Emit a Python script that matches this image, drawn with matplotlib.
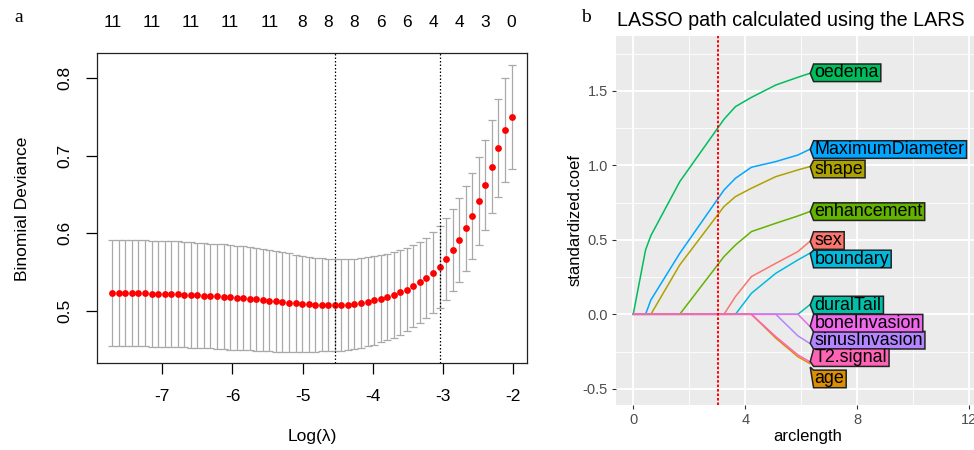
import matplotlib
matplotlib.use("Agg")
import matplotlib.pyplot as plt
from matplotlib.patches import Polygon

plt.rcParams['font.family'] = ['Liberation Sans', 'DejaVu Sans']

# ---- panel a: cv.glmnet binomial deviance ----
log_lambda = [-7.713, -7.620, -7.526, -7.433, -7.340, -7.247, -7.153, -7.060, -6.967, -6.873,
              -6.780, -6.687, -6.593, -6.500, -6.407, -6.314, -6.220, -6.127, -6.034, -5.940,
              -5.847, -5.754, -5.660, -5.567, -5.474, -5.381, -5.287, -5.194, -5.101, -5.007,
              -4.914, -4.821, -4.727, -4.634, -4.541, -4.448, -4.354, -4.261, -4.168, -4.074,
              -3.981, -3.888, -3.794, -3.701, -3.608, -3.515, -3.421, -3.328, -3.235, -3.141,
              -3.048, -2.955, -2.861, -2.768, -2.675, -2.582, -2.488, -2.395, -2.302, -2.208,
              -2.115, -2.022]
cvm = [0.5236, 0.5236, 0.5232, 0.5232, 0.5228, 0.5228, 0.5223, 0.5223, 0.5219, 0.5215,
       0.5215, 0.5210, 0.5206, 0.5202, 0.5198, 0.5193, 0.5189, 0.5185, 0.5176, 0.5172,
       0.5163, 0.5159, 0.5150, 0.5142, 0.5133, 0.5125, 0.5116, 0.5107, 0.5099, 0.5090,
       0.5086, 0.5082, 0.5078, 0.5078, 0.5076, 0.5078, 0.5082, 0.5090, 0.5103, 0.5120,
       0.5137, 0.5159, 0.5180, 0.5206, 0.5241, 0.5275, 0.5318, 0.5369, 0.5425, 0.5494,
       0.5571, 0.5666, 0.5782, 0.5915, 0.6065, 0.6229, 0.6413, 0.6624, 0.6860, 0.7101,
       0.7332, 0.7496]
cvsd = [0.0685, 0.0685, 0.0685, 0.0684, 0.0684, 0.0684, 0.0683, 0.0683, 0.0682, 0.0682,
        0.0681, 0.0680, 0.0679, 0.0678, 0.0677, 0.0676, 0.0674, 0.0673, 0.0672, 0.0671,
        0.0670, 0.0667, 0.0663, 0.0659, 0.0654, 0.0649, 0.0642, 0.0635, 0.0627, 0.0620,
        0.0612, 0.0606, 0.0599, 0.0595, 0.0591, 0.0587, 0.0584, 0.0580, 0.0578, 0.0575,
        0.0573, 0.0564, 0.0554, 0.0551, 0.0548, 0.0538, 0.0528, 0.0524, 0.0520, 0.0523,
        0.0526, 0.0526, 0.0530, 0.0541, 0.0546, 0.0554, 0.0565, 0.0578, 0.0601, 0.0636,
        0.0666, 0.0668]
nzero_idx = [0, 6, 12, 18, 24, 29, 33, 37, 41, 45, 49, 53, 57, 61]
nzero_lab = ["11", "11", "11", "11", "11", "8", "8", "8", "6", "6", "4", "4", "3", "0"]
idx_min, idx_1se = 34, 50

# ---- panel b: LARS path ----
arclength = [0, 0.44, 0.63, 1.66, 3.24, 3.65, 4.22, 5.09, 5.88, 6.30]
paths = {
    "oedema":          [0, 0.432, 0.528, 0.890, 1.309, 1.394, 1.456, 1.539, 1.591, 1.617],
    "MaximumDiameter": [0, 0, 0.096, 0.409, 0.834, 0.913, 0.987, 1.025, 1.069, 1.107],
    "shape":           [0, 0, 0, 0.331, 0.723, 0.790, 0.846, 0.924, 0.969, 0.991],
    "enhancement":     [0, 0, 0, 0, 0.387, 0.465, 0.555, 0.611, 0.660, 0.689],
    "sex":             [0, 0, 0, 0, 0, 0.119, 0.253, 0.342, 0.421, 0.488],
    "boundary":        [0, 0, 0, 0, 0, 0, 0.141, 0.275, 0.365, 0.409],
    "duralTail":       [0, 0, 0, 0, 0, 0, 0, 0, 0, 0.063],
    "sinusInvasion":   [0, 0, 0, 0, 0, 0, 0, 0, -0.145, -0.195],
    "age":             [0, 0, 0, 0, 0, 0, 0, -0.160, -0.285, -0.330],
    "boneInvasion":    [0, 0, 0, 0, 0, 0, 0, 0, 0, -0.080],
    "T2.signal":       [0, 0, 0, 0, 0, 0, 0, -0.150, -0.273, -0.318],
}
colors = {"sex": "#F8766D", "age": "#DB8E00", "shape": "#AEA200", "enhancement": "#64B200",
          "oedema": "#00BD5C", "duralTail": "#00C1A7", "boundary": "#00BADE",
          "MaximumDiameter": "#00A6FF", "sinusInvasion": "#B385FF",
          "boneInvasion": "#EF67EB", "T2.signal": "#FF63B6"}
label_y = {"oedema": 1.621, "MaximumDiameter": 1.106, "shape": 0.975, "enhancement": 0.689,
           "sex": 0.495, "boundary": 0.371, "duralTail": 0.062, "boneInvasion": -0.060,
           "sinusInvasion": -0.174, "T2.signal": -0.291, "age": -0.434}
s_selected = 3.03

fig = plt.figure(figsize=(9.74, 4.5), dpi=100)

# ---------------- panel a ----------------
ax = fig.add_axes([0.0999, 0.1940, 0.4409, 0.6876])
ax.errorbar(log_lambda, cvm, yerr=cvsd, fmt='none', ecolor='#A9A9A9',
            elinewidth=0.9, capsize=3.1, capthick=0.9)
ax.plot(log_lambda, cvm, 'o', color='red', markersize=4.9, markeredgewidth=0)
for i in (idx_min, idx_1se):
    ax.axvline(log_lambda[i], color='black', lw=0.9, ls=(0, (1.2, 1.6)))
ax.set_xlim(-7.927, -1.805)
ax.set_ylim(0.4334, 0.832)
ax.set_xticks([-7, -6, -5, -4, -3, -2])
ax.set_xticklabels(["-7", "-6", "-5", "-4", "-3", "-2"])
ax.set_yticks([0.5, 0.6, 0.7, 0.8])
ax.set_yticklabels(["0.5", "0.6", "0.7", "0.8"], rotation=90, va='center')
ax.tick_params(axis='x', length=7.7, width=0.9, labelsize=12.5, pad=11)
ax.tick_params(axis='y', length=7.7, width=0.9, labelsize=12.5, pad=10)
for sp in ax.spines.values():
    sp.set_linewidth(0.9)
    sp.set_color('#222222')
for i, lab in zip(nzero_idx, nzero_lab):
    ax.text(log_lambda[i], 1.099, lab, transform=ax.get_xaxis_transform(),
            ha='center', va='center', fontsize=12.5)
fig.text(312 / 974, 1 - 436.7 / 450, "Log(λ)", ha='center', va='center', fontsize=12.5)
fig.text(23 / 974, 1 - 209 / 450, "Binomial Deviance", ha='center', va='center',
         rotation=90, fontsize=12.5)
fig.text(19 / 974, 1 - 18 / 450, "a", ha='center', va='center', fontsize=14,
         family=['Liberation Serif', 'DejaVu Serif'])

# ---------------- panel b ----------------
ax2 = fig.add_axes([0.6324, 0.1, 0.3901, 0.82])
ax2.set_facecolor('#EBEBEB')
ax2.set_xlim(-0.617, 12.95)
ax2.set_ylim(-0.609, 1.868)
ax2.set_xticks([0, 4, 8, 12])
ax2.set_xticklabels(["0", "4", "8", "12"])
ax2.set_yticks([-0.5, 0.0, 0.5, 1.0, 1.5])
ax2.set_yticklabels(["-0.5", "0.0", "0.5", "1.0", "1.5"])
ax2.set_xticks([2, 6, 10], minor=True)
ax2.set_yticks([-0.25, 0.25, 0.75, 1.25, 1.75], minor=True)
ax2.grid(which='major', color='white', lw=1.3)
ax2.grid(which='minor', color='white', lw=0.6)
ax2.set_axisbelow(True)
ax2.tick_params(which='major', length=3.2, width=0.8, color='#333333',
                labelcolor='#4D4D4D', labelsize=10.5, pad=2.5)
ax2.tick_params(which='minor', length=0)
for sp in ax2.spines.values():
    sp.set_visible(False)

for name, ys in paths.items():
    ax2.plot(arclength, ys, color=colors[name], lw=1.1, zorder=3)
ax2.axvline(s_selected, color='red', lw=1.4, ls=(0, (1.3, 1.0)), zorder=4)

fig.text(617 / 974, 1 - 20.3 / 450, "LASSO path calculated using the LARS",
         ha='left', va='center', fontsize=14.2)
fig.text(586 / 974, 1 - 17 / 450, "b", ha='center', va='center', fontsize=14,
         family=['Liberation Serif', 'DejaVu Serif'])
fig.text(808 / 974, 1 - 437 / 450, "arclength", ha='center', va='center', fontsize=12)
fig.text(575 / 974, 1 - 220 / 450, "standardized.coef", ha='center', va='center',
         rotation=90, fontsize=12)

# label boxes with a pointer to the end of each path
fig.canvas.draw()
renderer = fig.canvas.get_renderer()
inv = ax2.transData.inverted()
x_end = arclength[-1] + 0.02
tip_w = 0.12
half_h = 0.059
for name in paths:
    ye = paths[name][-1]
    yl = label_y[name]
    t = ax2.text(x_end + tip_w + 0.03, yl, name, ha='left', va='center',
                 fontsize=12.9, color='black', zorder=6)
    bb = t.get_window_extent(renderer)
    x_right = inv.transform((bb.x1 + 2.0, 0))[0]
    top, bot = yl + half_h, yl - half_h
    ytip = min(max(ye, bot - 0.02), top + 0.02)
    poly = Polygon([(x_end, ytip), (x_end + tip_w, top), (x_right, top),
                    (x_right, bot), (x_end + tip_w, bot)], closed=True,
                   facecolor=colors[name], edgecolor='#222222', lw=1.1, zorder=5)
    ax2.add_patch(poly)

fig.savefig("out.png", dpi=100)
